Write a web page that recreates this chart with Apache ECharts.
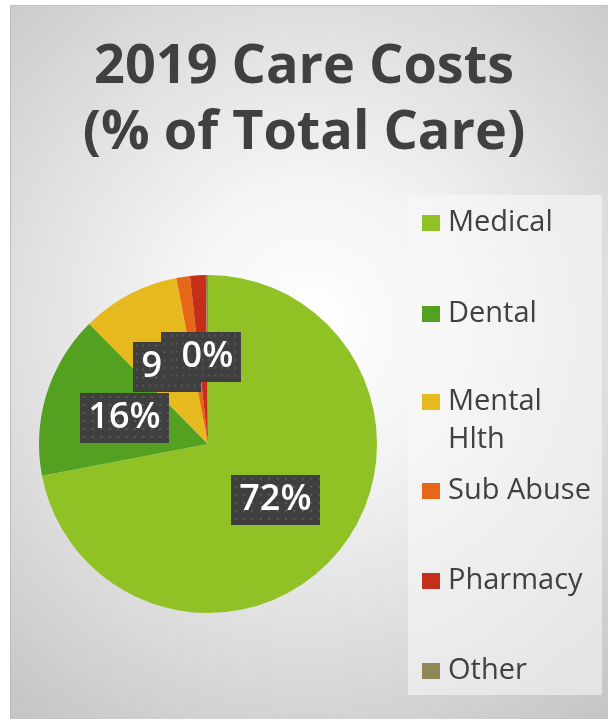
<!DOCTYPE html>
<html>
<head>
<meta charset="utf-8">
<script src="https://cdn.jsdelivr.net/npm/echarts@6/dist/echarts.min.js"></script>
<style>
  html, body { margin: 0; padding: 0; background: #ffffff; width: 608px; height: 719px; overflow: hidden; }
  #frame {
    position: absolute; left: 10px; top: 5px; width: 598px; height: 714px;
    box-sizing: border-box; border-left: 1px solid #bdbdbd; border-top: 1px solid #c4c4c4;
    background: radial-gradient(ellipse 78% 68% at 50% 45%, #ffffff 0%, #f4f4f4 30%, #e0e0e0 62%, #c6c6c6 100%);
  }
  #chart { position: absolute; left: 0; top: 0; width: 608px; height: 719px; }
</style>
</head>
<body>
<div id="frame"></div>
<div id="chart"></div>
<script>
// Share of total care spending, 2019 (percent)
const categories = ['Medical', 'Dental', 'Mental Hlth', 'Sub Abuse', 'Pharmacy', 'Other'];
const shares = [72.0, 15.6, 9.4, 1.3, 1.5, 0.2];
const legendLabels = ['Medical', 'Dental', 'Mental\nHlth', 'Sub Abuse', 'Pharmacy', 'Other'];
const sliceColors = ['#90C226', '#54A021', '#E6B91E', '#E76618', '#C42F1A', '#918655'];
const titleText = '2019 Care Costs\n(% of Total Care)';

// Dark dotted tile used behind each data label
function makeDotTile(w, h) {
  const c = document.createElement('canvas');
  c.width = w; c.height = h;
  const g = c.getContext('2d');
  g.fillStyle = '#3f3f3f';
  g.fillRect(0, 0, w, h);
  g.fillStyle = '#5a5a5a';
  for (let y = 3; y < h; y += 8) {
    for (let x = 3; x < w; x += 8) {
      g.fillRect(x, y, 2, 2);
    }
  }
  return c;
}
const dotTile = makeDotTile(84, 50);

const chart = echarts.init(document.getElementById('chart'), null, { renderer: 'canvas' });

// One legend block per category so every row sits on an even step
const legendCentersY = [221, 312, 400, 489, 579, 669];
const legendLineH = 38;
const legends = categories.map((name, i) => {
  const label = legendLabels[i];
  const nLines = label.split('\n').length;
  const text = ' \n'.repeat(nLines - 1) + label;
  const totalLines = 2 * nLines - 1;
  return {
    show: true,
    data: [name],
    orient: 'vertical',
    left: 422,
    top: legendCentersY[i] + 2 - totalLines * legendLineH / 2,
    padding: 0,
    itemWidth: 18,
    itemHeight: 16,
    icon: 'rect',
    selectedMode: false,
    formatter: () => text,
    textStyle: {
      fontFamily: 'Open Sans',
      fontSize: 29,
      color: '#404040',
      lineHeight: legendLineH,
      padding: [0, 0, 0, 3]
    }
  };
});

chart.setOption({
  animation: false,
  color: sliceColors,
  title: {
    text: titleText,
    left: 'center',
    top: 30,
    textStyle: {
      fontFamily: 'Open Sans',
      fontWeight: 'bold',
      fontSize: 54,
      lineHeight: 66,
      color: '#404040'
    }
  },
  graphic: [{
    type: 'rect',
    silent: true,
    z: -1,
    shape: { x: 408, y: 195, width: 194, height: 500 },
    style: { fill: 'rgba(250,250,250,0.55)' }
  }],
  legend: legends,
  series: [{
    type: 'pie',
    center: [208, 444],
    radius: 169,
    startAngle: 90,
    clockwise: true,
    silent: true,
    avoidLabelOverlap: false,
    labelLayout: { hideOverlap: false },
    labelLine: { show: false },
    itemStyle: { borderWidth: 0 },
    label: {
      show: true,
      position: 'inside',
      minMargin: 0,
      formatter: p => Math.round(p.percent) + '%',
      fontFamily: 'Open Sans',
      fontWeight: 600,
      fontSize: 36,
      lineHeight: 42,
      color: '#ffffff',
      backgroundColor: { image: dotTile },
      padding: [4, 8, 4, 8],
      shadowColor: 'rgba(0,0,0,0.45)',
      shadowBlur: 4,
      shadowOffsetX: 3,
      shadowOffsetY: 3
    },
    data: categories.map((name, i) => ({ name: name, value: shares[i] }))
  }]
});
</script>
</body>
</html>
